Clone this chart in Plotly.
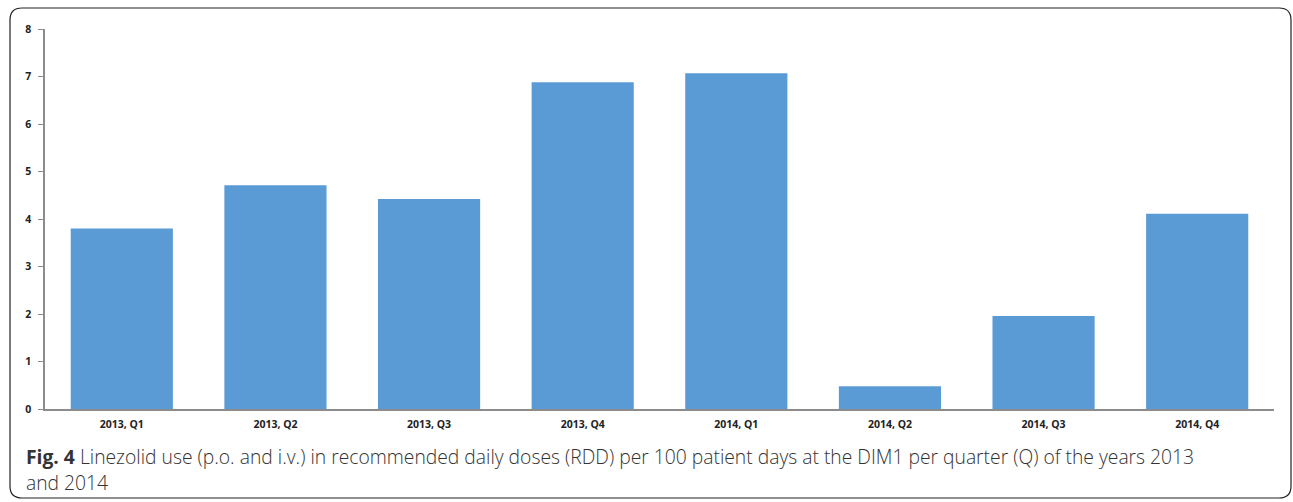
import plotly.graph_objects as go

categories = ["2013, Q1", "2013, Q2", "2013, Q3", "2013, Q4",
              "2014, Q1", "2014, Q2", "2014, Q3", "2014, Q4"]
values = [3.80, 4.71, 4.42, 6.88, 7.07, 0.48, 1.96, 4.11]
y_ticks = [0, 1, 2, 3, 4, 5, 6, 7, 8]

caption_bold = "Fig. 4"
caption_line1 = (" Linezolid use (p.o. and i.v.) in recommended daily doses (RDD) per 100 "
                 "patient days at the DIM1 per quarter (Q) of the years 2013")
caption_line2 = "and 2014"

W, H = 1293, 502
L, R, T, B = 45, 19, 29, 93
pw, ph = W - L - R, H - T - B

def px(x):
    return (x - L) / pw

def py(y):
    return (H - B - y) / ph

fig = go.Figure(go.Bar(
    x=categories, y=values, marker=dict(color="#5B9BD5", line=dict(width=0)),
    hoverinfo="x+y",
))

# rounded frame
x0, x1, y0, y1, r = 10, 1291, 8, 498, 12
path = (f"M {px(x0+r)},{py(y0)} L {px(x1-r)},{py(y0)} "
        f"Q {px(x1)},{py(y0)} {px(x1)},{py(y0+r)} "
        f"L {px(x1)},{py(y1-r)} Q {px(x1)},{py(y1)} {px(x1-r)},{py(y1)} "
        f"L {px(x0+r)},{py(y1)} "
        f"Q {px(x0)},{py(y1)} {px(x0)},{py(y1-r)} "
        f"L {px(x0)},{py(y0+r)} Q {px(x0)},{py(y0)} {px(x0+r)},{py(y0)} Z")

tickfont = dict(size=10.5, family="Open Sans", color="#222222", weight="bold")
capfont = dict(size=19.3, family="Open Sans", color="#333333", weight=300)

fig.update_layout(
    width=W, height=H,
    margin=dict(l=L, r=R, t=T, b=B, pad=0),
    paper_bgcolor="white", plot_bgcolor="white",
    bargap=0.335,
    showlegend=False,
    font=dict(family="Open Sans", color="#222222"),
    xaxis=dict(
        showline=True, linecolor="#8c8c8c", linewidth=1.5,
        ticks="", showgrid=False, zeroline=False,
        tickfont=tickfont, ticklabelstandoff=5,
    ),
    yaxis=dict(
        range=[0, 8], tickvals=y_ticks, showline=True, linecolor="#8c8c8c",
        linewidth=1.5, ticks="outside", ticklen=5, tickcolor="#8c8c8c",
        showgrid=False, zeroline=False,
        tickfont=tickfont, ticklabelstandoff=5,
    ),
    shapes=[dict(type="path", xref="paper", yref="paper", path=path,
                 line=dict(color="#222222", width=1.2), fillcolor="rgba(0,0,0,0)")],
    annotations=[
        dict(xref="paper", yref="paper", x=px(24), y=py(456), xanchor="left",
             yanchor="middle", showarrow=False, align="left",
             text=f"<b>{caption_bold}</b>{caption_line1}", font=capfont),
        dict(xref="paper", yref="paper", x=px(24), y=py(482), xanchor="left",
             yanchor="middle", showarrow=False, align="left",
             text=caption_line2, font=capfont),
    ],
)

fig.write_html(
    "out.html",
    config={"displayModeBar": False},
    post_script="document.body.style.margin='0px';document.body.style.overflow='hidden';",
)
